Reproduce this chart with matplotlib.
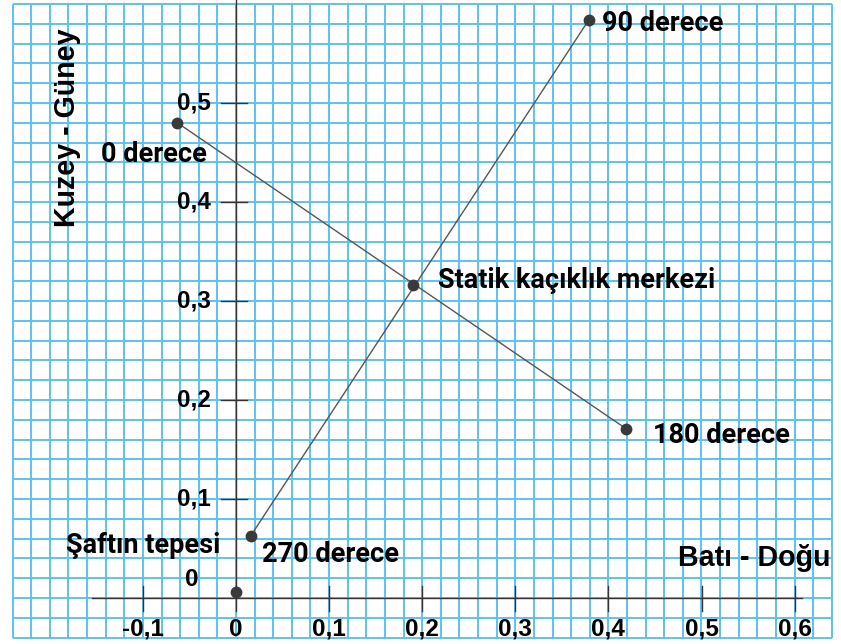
import numpy as np
import matplotlib
matplotlib.use("Agg")
import matplotlib.pyplot as plt

# ---- data ----
point_names = ["0 derece", "90 derece", "Statik kaçıklık merkezi", "180 derece", "270 derece", "Şaftın tepesi"]
point_x = [-0.063, 0.379, 0.190, 0.419, 0.016, 0.0]
point_y = [0.480, 0.584, 0.316, 0.171, 0.063, 0.006]
x_ticks = [-0.1, 0.0, 0.1, 0.2, 0.3, 0.4, 0.5, 0.6]
x_tick_labels = ["-0,1", "0", "0,1", "0,2", "0,3", "0,4", "0,5", "0,6"]
y_ticks = [0.1, 0.2, 0.3, 0.4, 0.5]
y_tick_labels = ["0,1", "0,2", "0,3", "0,4", "0,5"]
x_title = "Batı - Doğu"
y_title = "Kuzey - Güney"

W, H = 841, 644
fig = plt.figure(figsize=(W / 100, H / 100), dpi=100)
ax = fig.add_axes([0, 0, 1, 1])
ax.set_axis_off()
px_x0, px_sx = 236.0, 931.0
px_y0, px_sy = 598.0, 990.0
ax.set_xlim((0 - px_x0) / px_sx, (W - px_x0) / px_sx)
ax.set_ylim((px_y0 - H) / px_sy, px_y0 / px_sy)

# ---- grid paper ----
gx = np.arange(-0.24, 0.6401, 0.02)
gy = np.arange(-0.04, 0.6001, 0.02)
gcol = "#5cc3ef"
ax.vlines(gx, gy[0], gy[-1], color=gcol, lw=1.4, zorder=1)
ax.hlines(gy, gx[0], gx[-1], color=gcol, lw=1.4, zorder=1)

# ---- axes ----
acol = "#333333"
ax.plot([-0.155, 0.608], [0, 0], color=acol, lw=1.0, zorder=2)
ax.plot([0, 0], [point_y[5], 0.62], color=acol, lw=1.0, zorder=2)
for xt, lab in zip(x_ticks, x_tick_labels):
    ax.plot([xt, xt], [-0.0135, 0.012], color=acol, lw=1.0, zorder=2)
    ax.text(xt, -0.0315, lab, ha="center", va="center", fontsize=17.5,
            fontweight="bold", family="Liberation Sans", zorder=4)
for yt, lab in zip(y_ticks, y_tick_labels):
    ax.plot([-0.016, 0.012], [yt, yt], color=acol, lw=1.0, zorder=2)
    ax.text(-0.027, yt, lab, ha="right", va="center", fontsize=17.5,
            fontweight="bold", family="Liberation Sans", zorder=4)
ax.text(-0.047, 0.0185, "0", ha="center", va="center", fontsize=17.5,
        fontweight="bold", family="Liberation Sans", zorder=4)

ax.text(0.475, 0.040, x_title, ha="left", va="center", fontsize=20.6,
        fontweight="bold", family="Liberation Sans", zorder=4)
ax.text(-0.1815, 0.475, y_title, ha="center", va="center", rotation=90,
        fontsize=20.6, fontweight="bold", family="Liberation Sans", zorder=4)

# ---- lines through the centre ----
lcol = "#555555"
ax.plot([point_x[0], point_x[3]], [point_y[0], point_y[3]], color=lcol, lw=1.0, zorder=3)
ax.plot([point_x[1], point_x[4]], [point_y[1], point_y[4]], color=lcol, lw=1.0, zorder=3)
ax.plot(point_x, point_y, "o", color="#3a3a3a", markersize=7.5, zorder=5, lw=0)

# ---- point labels ----
lab_dx = [-0.0825, 0.0145, 0.0265, 0.0285, 0.0115, -0.183]
lab_dy = [-0.032, -0.004, 0.005, -0.007, -0.0195, 0.0466]
for name, x, y, dx, dy in zip(point_names, point_x, point_y, lab_dx, lab_dy):
    ax.text(x + dx, y + dy, name, ha="left", va="center", fontsize=19.5,
            fontweight="bold", family="Roboto", zorder=4)

fig.savefig("out.png", dpi=100)
